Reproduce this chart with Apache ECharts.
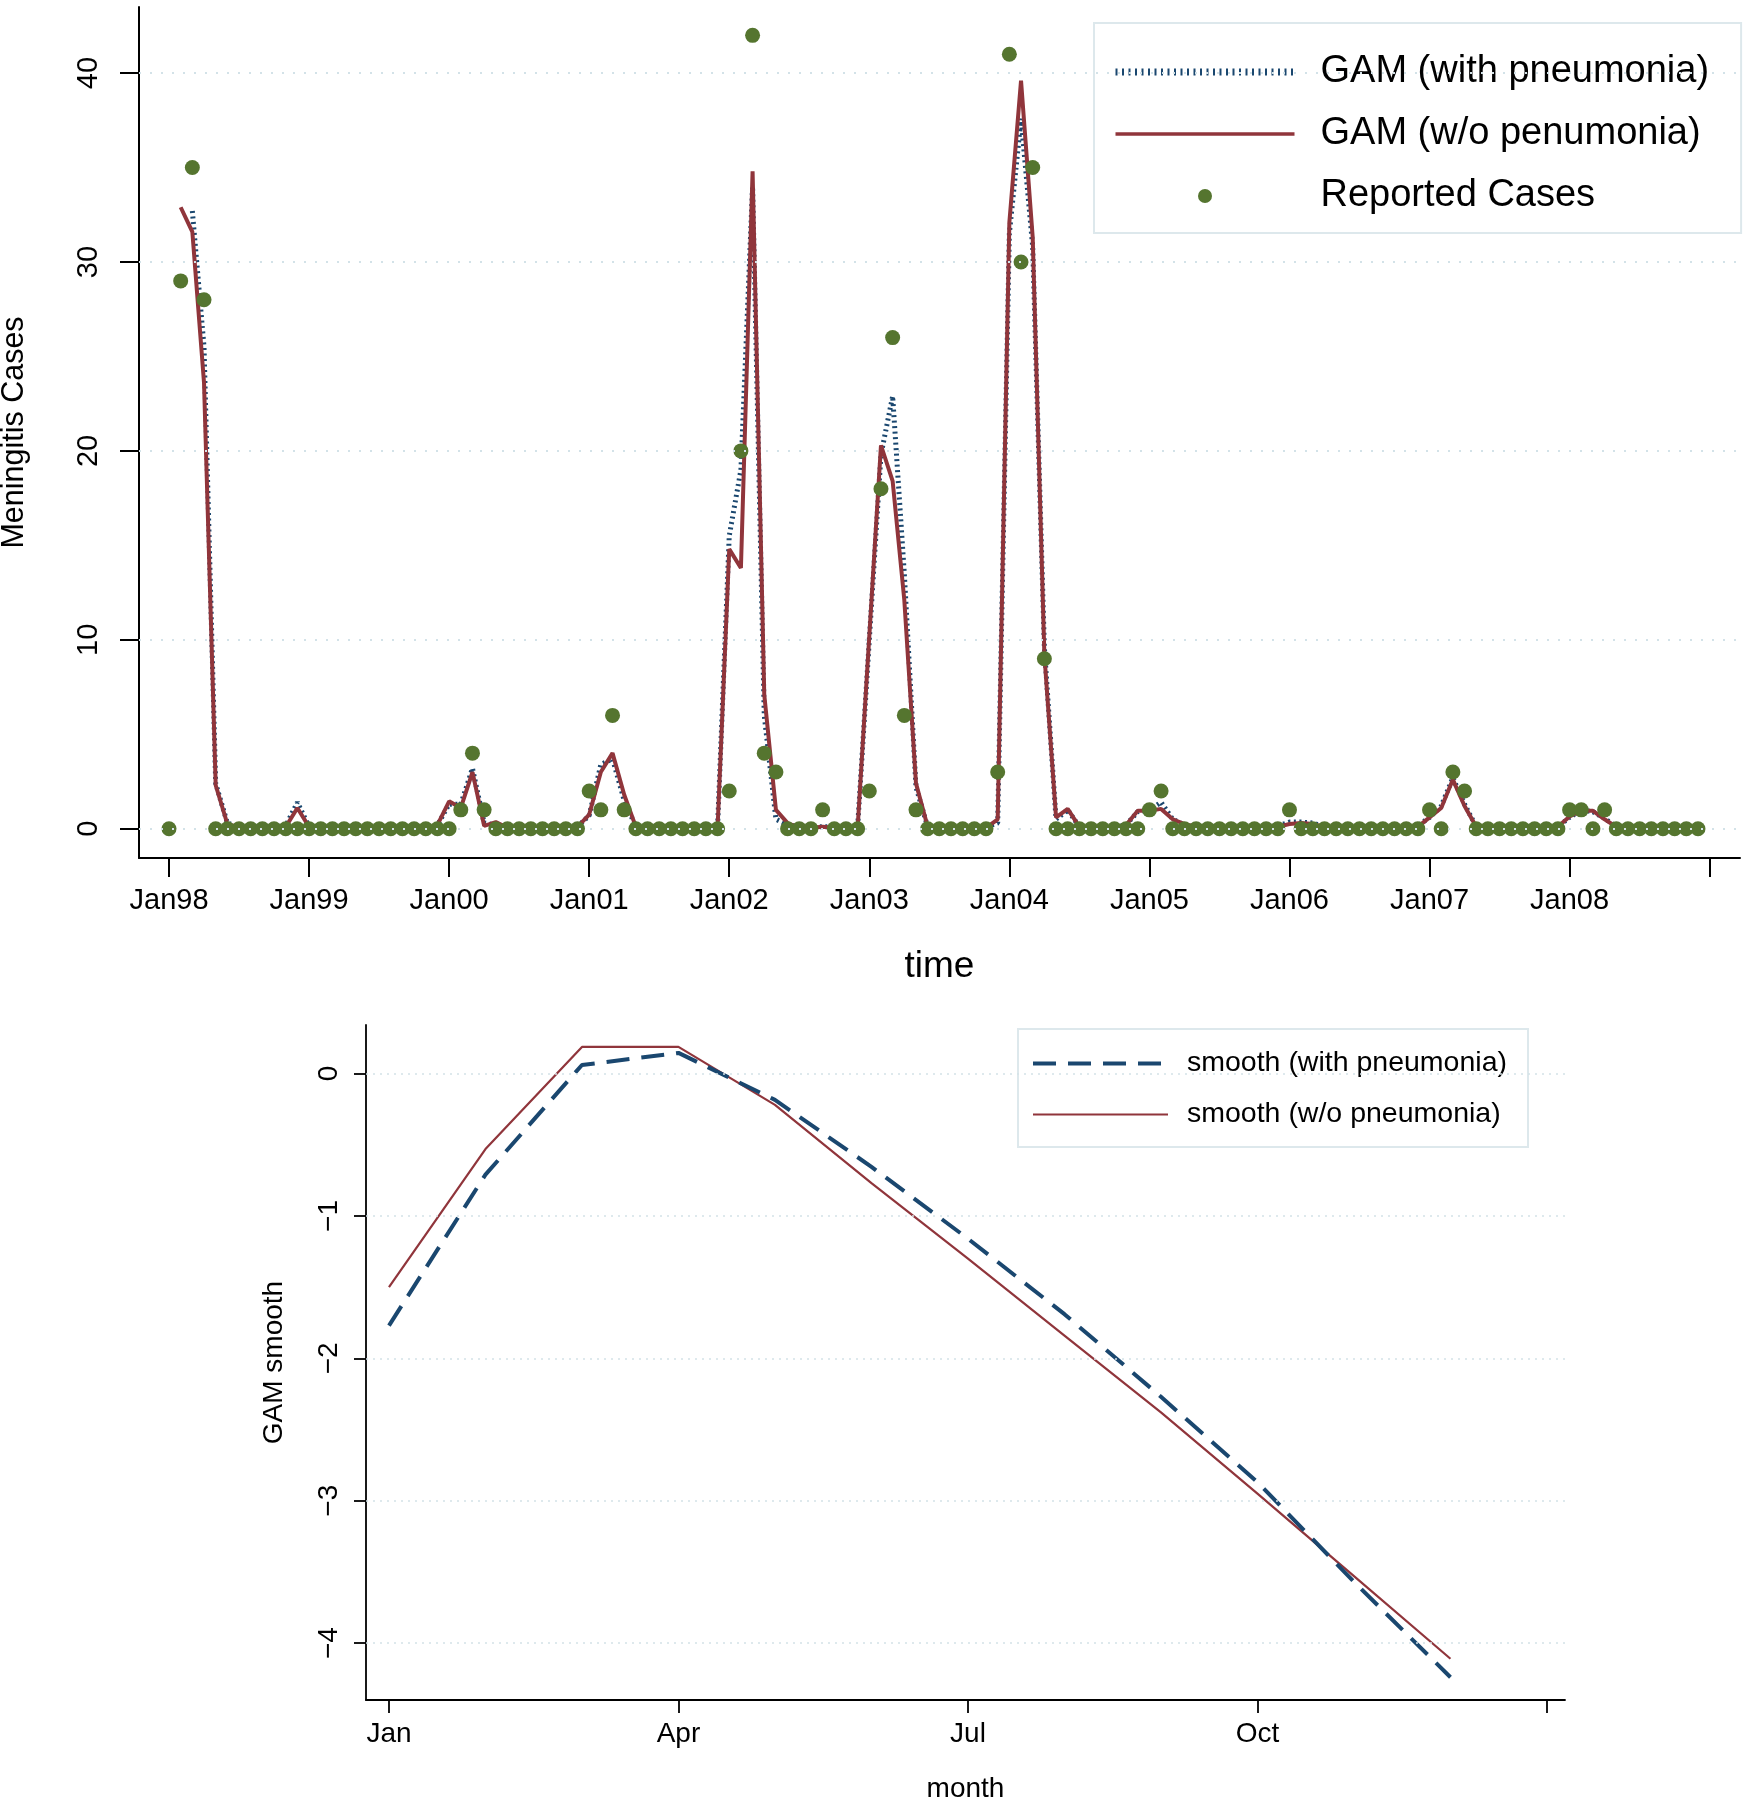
<!DOCTYPE html>
<html>
<head>
<meta charset="utf-8">
<script src="https://cdn.jsdelivr.net/npm/echarts@6/dist/echarts.min.js"></script>
<style>
  html, body { margin: 0; padding: 0; background: #ffffff; }
  #chart { width: 1743px; height: 1800px; }
</style>
</head>
<body>
<div id="chart"></div>
<script>
// ---------- Top panel: monthly series Jan98 .. Dec08 (index 0 = Jan98) ----------
const topTickLabels = ['Jan98','Jan99','Jan00','Jan01','Jan02','Jan03','Jan04','Jan05','Jan06','Jan07','Jan08'];
const topTickValues = [0,12,24,36,48,60,72,84,96,108,120,132];
const topGridValues = [0,10,20,30,40];

const reportedCases = [
  0,29,35,28,0,0,0,0,0,0,0,0,          // 1998
  0,0,0,0,0,0,0,0,0,0,0,0,             // 1999
  0,1,4,1,0,0,0,0,0,0,0,0,             // 2000
  2,1,6,1,0,0,0,0,0,0,0,0,             // 2001
  2,20,42,4,3,0,0,0,1,0,0,0,           // 2002
  2,18,26,6,1,0,0,0,0,0,0,3,           // 2003
  41,30,35,9,0,0,0,0,0,0,0,0,          // 2004
  1,2,0,0,0,0,0,0,0,0,0,0,             // 2005
  1,0,0,0,0,0,0,0,0,0,0,0,             // 2006
  1,0,3,2,0,0,0,0,0,0,0,0,             // 2007
  1,1,0,1,0,0,0,0,0,0,0,0              // 2008
];

const gamWithPneumonia = [
  null,null,32.7,25.5,2.4,0.3,0.1,0.1,0.1,0.1,0.15,1.4,
  0.1,0.1,0.1,0.1,0.1,0.1,0.1,0.1,0.1,0.1,0.1,0.2,
  1.3,1.3,3.2,0.3,0.2,0.1,0.1,0.1,0.1,0.1,0.1,0.1,
  0.7,3.4,3.7,1.5,0.1,0.1,0.1,0.1,0.1,0.1,0.1,0.1,
  15.5,19.0,34.0,6.0,0.5,0.2,0.1,0.1,0.1,0.1,0.1,0.1,
  10.0,19.8,22.9,13.5,2.2,0.1,0.1,0.1,0.1,0.1,0.1,0.3,
  31.5,37.6,30.8,9.6,0.5,1.0,0.1,0.1,0.1,0.1,0.2,0.9,
  1.0,1.4,0.5,0.2,0.1,0.1,0.1,0.1,0.1,0.1,0.1,0.15,
  0.35,0.35,0.3,0.1,0.1,0.1,0.1,0.1,0.1,0.1,0.1,0.15,
  0.6,1.2,2.7,1.3,0.1,0.1,0.1,0.1,0.1,0.1,0.1,0.1,
  0.6,1.0,0.9,0.55,0.1,0.1,0.1,0.1,0.1,0.1,0.1,0.1
];

const gamWithoutPneumonia = [
  null,32.9,31.6,23.6,2.3,0.25,0.05,0.05,0.05,0.05,0.1,1.1,
  0.1,0.05,0.05,0.05,0.05,0.05,0.05,0.05,0.05,0.05,0.05,0.2,
  1.45,1.1,3.0,0.15,0.35,0.05,0.05,0.05,0.05,0.05,0.05,0.1,
  0.75,3.0,4.0,1.8,0.1,0.05,0.05,0.05,0.05,0.05,0.05,0.05,
  14.8,13.8,34.8,7.1,1.0,0.3,0.05,0.05,0.1,0.05,0.05,0.05,
  10.2,20.3,18.4,12.1,2.4,0.1,0.05,0.05,0.05,0.05,0.05,0.5,
  32.1,39.6,31.3,9.2,0.6,1.05,0.1,0.05,0.05,0.05,0.2,0.95,
  0.95,1.05,0.5,0.25,0.1,0.05,0.05,0.05,0.05,0.05,0.05,0.1,
  0.25,0.3,0.25,0.1,0.05,0.05,0.05,0.05,0.05,0.05,0.05,0.1,
  0.6,1.1,2.6,1.2,0.1,0.05,0.05,0.05,0.05,0.05,0.05,0.1,
  0.65,0.95,0.95,0.5,0.1,0.05,0.05,0.05,0.05,0.05,0.05,0.05
];

// ---------- Bottom panel: seasonal smooth by month (1 = Jan) ----------
const monthNumbers = [1,2,3,4,5,6,7,8,9,10,11,12];
const monthTickValues = [1,4,7,10,13];
const monthTickLabels = ['Jan','Apr','Jul','Oct'];
const bottomGridValues = [0,-1,-2,-3,-4];
const smoothWithPneumonia = [-1.77,-0.71,0.06,0.145,-0.185,-0.655,-1.16,-1.69,-2.27,-2.87,-3.57,-4.24];
const smoothWithoutPneumonia = [-1.50,-0.53,0.187,0.187,-0.22,-0.77,-1.30,-1.84,-2.38,-2.95,-3.53,-4.11];

const FONT = 'Liberation Sans, Arial, Helvetica, sans-serif';
const BLUE = '#1a476f', RED = '#90353b', GREEN = '#55752f';
const GRIDC = '#d3e2e8';

function pairs(arr) {
  const out = [];
  arr.forEach((v, i) => { if (v !== null) out.push([i, v]); });
  return out;
}

const chart = echarts.init(document.getElementById('chart'), null, { renderer: 'canvas', width: 1743, height: 1800 });

const hiddenDot = { opacity: 0 };

const option = {
  backgroundColor: '#ffffff',
  animation: false,
  textStyle: { fontFamily: FONT, color: '#000' },
  grid: [
    { left: 139, right: 3, top: 7, bottom: 942, containLabel: false, outerBoundsMode: 'none' },
    { left: 366, right: 178, top: 1025, bottom: 100, containLabel: false, outerBoundsMode: 'none' }
  ],
  legend: [
    {
      orient: 'vertical', left: 1094, top: 23,
      padding: [30, 32, 18, 18],
      itemWidth: 179, itemHeight: 14, itemGap: 24,
      selectedMode: false,
      backgroundColor: '#ffffff', borderColor: '#dde8ec', borderWidth: 2,
      textStyle: { fontSize: 38, color: '#000', fontFamily: FONT, padding: [0, 0, 0, 21] },
      data: [
        { name: 'GAM (with pneumonia)', itemStyle: hiddenDot, lineStyle: { color: BLUE, width: 7, type: [2, 4.5], cap: 'butt' } },
        { name: 'GAM (w/o penumonia)', itemStyle: hiddenDot, lineStyle: { color: RED, width: 3.5 } },
        { name: 'Reported Cases', icon: 'circle' }
      ]
    },
    {
      orient: 'vertical', left: 1018, top: 1029,
      padding: [20, 21, 18, 13],
      itemWidth: 135, itemHeight: 14, itemGap: 22,
      selectedMode: false,
      backgroundColor: '#ffffff', borderColor: '#dde8ec', borderWidth: 2,
      textStyle: { fontSize: 28.5, color: '#000', fontFamily: FONT, padding: [0, 0, 0, 14] },
      data: [
        { name: 'smooth (with pneumonia)', itemStyle: hiddenDot, lineStyle: { color: BLUE, width: 4, type: [23, 12] } },
        { name: 'smooth (w/o pneumonia)', itemStyle: hiddenDot, lineStyle: { color: RED, width: 2.2 } }
      ]
    }
  ],
  xAxis: [
    {
      gridIndex: 0, type: 'value', min: -2.571, max: 134.6,
      name: 'time', nameLocation: 'middle', nameGap: 90,
      nameTextStyle: { fontSize: 37, color: '#000', fontFamily: FONT },
      axisLine: { show: true, onZero: false, lineStyle: { color: '#000', width: 2 } },
      axisTick: { show: true, length: 19, lineStyle: { color: '#000', width: 2 }, customValues: topTickValues },
      axisLabel: {
        show: true, fontSize: 29, color: '#000', margin: 28, fontFamily: FONT,
        customValues: topTickValues.slice(0, topTickLabels.length),
        formatter: v => topTickLabels[Math.round(v / 12)] || ''
      },
      splitLine: { show: false }
    },
    {
      gridIndex: 1, type: 'value', min: 0.762, max: 13.187,
      name: 'month', nameLocation: 'middle', nameGap: 75,
      nameTextStyle: { fontSize: 28, color: '#000', fontFamily: FONT },
      axisLine: { show: true, onZero: false, lineStyle: { color: '#000', width: 1.8 } },
      axisTick: { show: true, length: 13, lineStyle: { color: '#000', width: 1.8 }, customValues: monthTickValues },
      axisLabel: {
        show: true, fontSize: 28, color: '#000', margin: 20, fontFamily: FONT,
        customValues: monthTickValues.slice(0, monthTickLabels.length),
        formatter: v => monthTickLabels[monthTickValues.indexOf(Math.round(v))] || ''
      },
      splitLine: { show: false }
    }
  ],
  yAxis: [
    {
      gridIndex: 0, type: 'value', min: -1.55, max: 43.5,
      name: 'Meningitis Cases', nameLocation: 'middle', nameGap: 109,
      nameTextStyle: { fontSize: 30.5, color: '#000', fontFamily: FONT },
      axisLine: { show: true, onZero: false, lineStyle: { color: '#000', width: 2 } },
      axisTick: { show: true, length: 19, lineStyle: { color: '#000', width: 2 }, customValues: topGridValues },
      axisLabel: {
        show: true, fontSize: 29, color: '#000', rotate: 90, margin: 36, fontFamily: FONT,
        customValues: topGridValues, formatter: v => String(v)
      },
      splitLine: { show: false }
    },
    {
      gridIndex: 1, type: 'value', min: -4.40, max: 0.341,
      name: 'GAM smooth', nameLocation: 'middle', nameGap: 78,
      nameTextStyle: { fontSize: 28, color: '#000', fontFamily: FONT },
      axisLine: { show: true, onZero: false, lineStyle: { color: '#000', width: 1.8 } },
      axisTick: { show: true, length: 12, lineStyle: { color: '#000', width: 1.8 }, customValues: bottomGridValues },
      axisLabel: {
        show: true, fontSize: 28, color: '#000', rotate: 90, margin: 23, fontFamily: FONT,
        customValues: bottomGridValues,
        formatter: v => (v < 0 ? '\u2212' + Math.abs(Math.round(v)) : String(Math.round(v)))
      },
      splitLine: { show: false }
    }
  ],
  series: [
    {
      name: 'GAM (with pneumonia)', type: 'line', xAxisIndex: 0, yAxisIndex: 0,
      data: pairs(gamWithPneumonia), symbol: 'none', z: 2,
      lineStyle: { color: BLUE, width: 5, type: [2, 3.5], cap: 'butt' },
      itemStyle: { color: BLUE },
      markLine: {
        silent: true, symbol: 'none', label: { show: false },
        lineStyle: { color: GRIDC, type: [2, 9], width: 2 },
        data: topGridValues.map(v => ({ yAxis: v }))
      }
    },
    {
      name: 'GAM (w/o penumonia)', type: 'line', xAxisIndex: 0, yAxisIndex: 0,
      data: pairs(gamWithoutPneumonia), symbol: 'none', z: 3,
      lineStyle: { color: RED, width: 4 },
      itemStyle: { color: RED }
    },
    {
      name: 'Reported Cases', type: 'scatter', xAxisIndex: 0, yAxisIndex: 0,
      data: pairs(reportedCases), symbol: 'circle', symbolSize: 15, z: 4,
      itemStyle: { color: GREEN, opacity: 1 }
    },
    {
      name: 'smooth (with pneumonia)', type: 'line', xAxisIndex: 1, yAxisIndex: 1,
      data: monthNumbers.map((m, i) => [m, smoothWithPneumonia[i]]), symbol: 'none', z: 3,
      lineStyle: { color: BLUE, width: 4, type: [23, 12] },
      itemStyle: { color: BLUE },
      markLine: {
        silent: true, symbol: 'none', label: { show: false },
        lineStyle: { color: GRIDC, type: [2, 5], width: 1.5 },
        data: bottomGridValues.map(v => ({ yAxis: v }))
      }
    },
    {
      name: 'smooth (w/o pneumonia)', type: 'line', xAxisIndex: 1, yAxisIndex: 1,
      data: monthNumbers.map((m, i) => [m, smoothWithoutPneumonia[i]]), symbol: 'none', z: 2,
      lineStyle: { color: RED, width: 2.2 },
      itemStyle: { color: RED }
    }
  ]
};

chart.setOption(option);
</script>
</body>
</html>
